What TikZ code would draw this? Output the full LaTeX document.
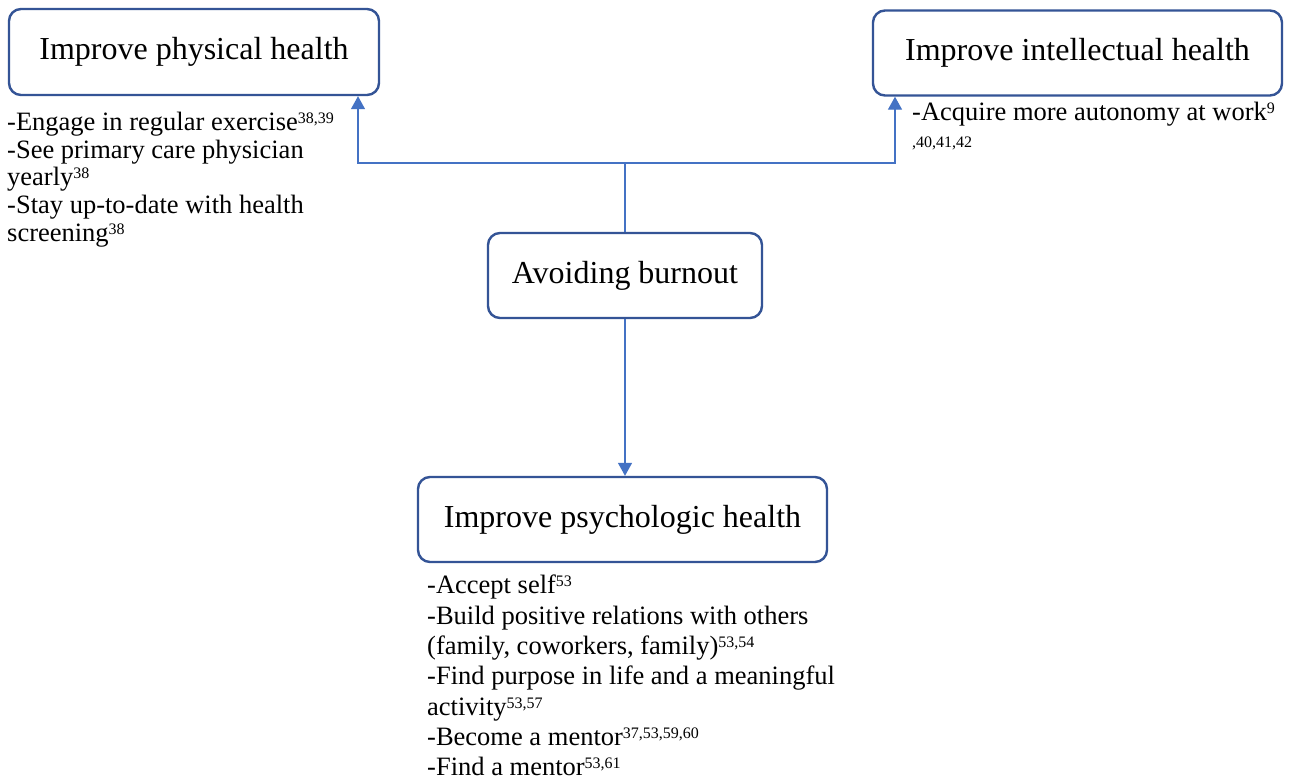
\documentclass[tikz,border=0pt]{standalone}
\usepackage{fontspec}
\setmainfont{Liberation Serif}
\usetikzlibrary{arrows.meta}
\definecolor{boxblue}{RGB}{52,84,150}
\definecolor{lineblue}{RGB}{68,114,196}
\newcommand\sps[1]{\raisebox{7pt}{\fontsize{16}{16}\selectfont #1}}
\begin{document}
\begin{tikzpicture}[x=1pt,y=-1pt,
  titlebox/.style={draw=boxblue, line width=2.4pt, rounded corners=12pt, inner sep=0pt,
    font=\fontsize{32}{36}\selectfont},
  listtext/.style={anchor=north west, align=left, inner sep=0pt,
    font=\fontsize{26.5}{27.7}\selectfont},
  conn/.style={draw=lineblue, line width=1.4pt},
  arr/.style={conn, -{Triangle[width=14pt,length=13pt]}}]
\fill[white] (0,0) rectangle (1292,780);
\useasboundingbox (0,0) rectangle (1292,780);

\node[titlebox, minimum width=370pt, minimum height=86pt] (phys) at (194,52) {Improve physical health};
\node[titlebox, minimum width=409pt, minimum height=85pt] (intel) at (1077.5,53) {Improve intellectual health};
\node[titlebox, minimum width=274pt, minimum height=85pt] (avoid) at (625,275.5) {Avoiding burnout};
\node[titlebox, minimum width=409pt, minimum height=85pt] (psych) at (622.5,519.5) {Improve psychologic health};

\node[listtext] (physlist) at (7,112) {-Engage in regular exercise\sps{38,39}\\
-See primary care physician\\
yearly\sps{38}\\
-Stay up-to-date with health\\
screening\sps{38}};

\node[listtext, font=\fontsize{26.5}{26.7}\selectfont] (intellist) at (912,102) {-Acquire more autonomy at work\sps{9}\\
{\fontsize{16}{16}\selectfont ,40,41,42}};

\node[listtext, font=\fontsize{26.5}{30.3}\selectfont] (psychlist) at (427,575) {-Accept self\sps{53}\\
-Build positive relations with others\\
(family, coworkers, family)\sps{53,54}\\
-Find purpose in life and a meaningful\\
activity\sps{53,57}\\
-Become a mentor\sps{37,53,59,60}\\
-Find a mentor\sps{53,61}};

\coordinate (j) at (625,163);
\draw[arr] (avoid.north) -- (j) -| ([xshift=164pt]phys.south);
\draw[arr] (j) -| ([xshift=-182.5pt]intel.south);
\draw[arr] (avoid.south) -- (avoid.south |- psych.north);
\end{tikzpicture}
\end{document}
